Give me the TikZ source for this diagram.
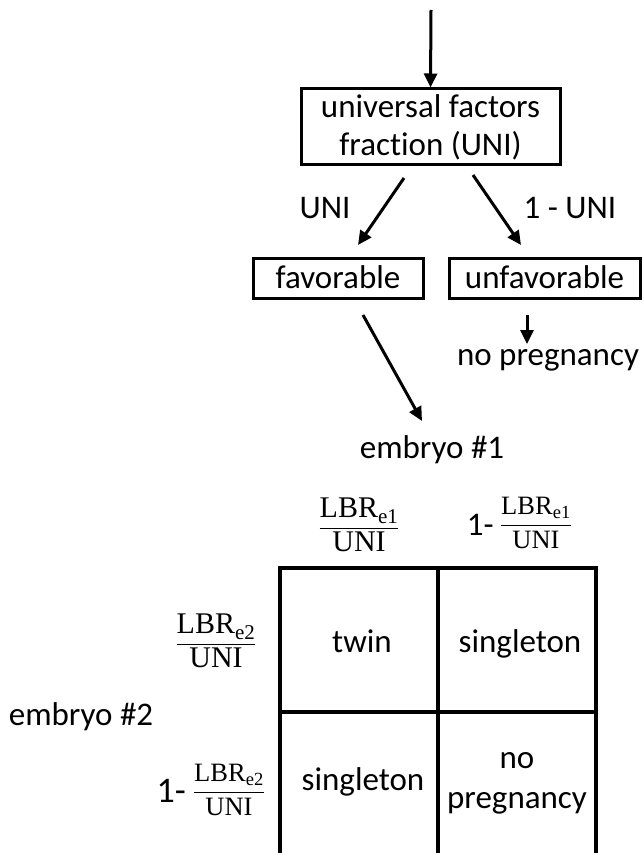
\documentclass[tikz,border=0pt]{standalone}
\usepackage{amsmath}
\usepackage{fontspec}
\setmainfont{Carlito}[Ligatures={NoCommon}]
\newfontfamily\fracfont{Liberation Serif}
\usepackage{tikz}
\usetikzlibrary{arrows.meta,positioning}

\newcommand{\lbr}[1]{\dfrac{\text{\fracfont LBR}_{\text{\fracfont e#1}}}{\text{\fracfont UNI}}}

\begin{document}
\begin{tikzpicture}[x=1pt,y=-1pt,
  every node/.style={font=\fontsize{33}{38}\selectfont,inner sep=0pt},
  box/.style={draw=black,line width=3pt,align=center},
  arr/.style={line width=3pt,-{Triangle[length=14pt,width=13pt]}},
  grid/.style={line width=3.2pt},
  bigfrac/.style={font=\fontsize{30}{36}\selectfont},
  smallfrac/.style={font=\fontsize{26.5}{32}\selectfont},
  one/.style={anchor=base east}]
\useasboundingbox (0,0) rectangle (643,853);
\coordinate (in) at (431,10);
\node [box,minimum width=259pt,minimum height=76pt] (uni) at (430.5,127) {universal factors\\fraction (UNI)};
\node [box,minimum width=170pt,minimum height=40pt] (fav) at (338,278) {};
\node [anchor=base] at (338,288) {favorable};
\node [box,minimum width=191pt,minimum height=40pt] (unfav) at (544.5,278) {};
\node [anchor=base] at (544.5,288) {unfavorable};
\node [anchor=base] (nopreg) at (548,365) {no pregnancy};
\node [anchor=base] (emb1) at (432,458) {embryo \#1};
\node [anchor=base] (emb2) at (81,725) {embryo \#2};
\node [anchor=base] (luni) at (325,218) {UNI};
\node [anchor=base] (runi) at (570,218) {1 - UNI};
\draw [arr] (in) -- (uni.north);
\coordinate (l0) at (404,178);
\coordinate (l1) at (358,245);
\coordinate (r0) at (473,175);
\coordinate (r1) at (521,245);
\draw [arr] (l0) -- (l1);
\draw [arr] (r0) -- (r1);
\coordinate (u0) at (527,315);
\coordinate (u1) at (527,344);
\draw [arr] (u0) -- (u1);
\coordinate (f0) at (363,315);
\coordinate (f1) at (422,421);
\draw [arr] (f0) -- (f1);
\node [bigfrac] (c1) at (359,525) {$\lbr{1}$};
\node [smallfrac] (c2) at (536,523) {$\lbr{1}$};
\node [one] at (494,535) {1-};
\node [bigfrac] (r1f) at (216,641) {$\lbr{2}$};
\node [smallfrac] (r2f) at (229,790) {$\lbr{2}$};
\node [one,font=\fontsize{36}{40}\selectfont] at (186,802) {1-};
\coordinate (g00) at (280,568);
\coordinate (g10) at (438,568);
\coordinate (g20) at (596,568);
\coordinate (g01) at (280,712);
\coordinate (g21) at (596,712);
\coordinate (g02) at (280,860);
\coordinate (g12) at (438,860);
\coordinate (g22) at (596,860);
\draw [grid] (g02) -- (g00) -- (g20) -- (g22);
\draw [grid] (g10) -- (g12);
\draw [grid] (g01) -- (g21);
\node [anchor=base] (twin) at (362,652) {twin};
\node [anchor=base] (s1) at (520,652) {singleton};
\node [anchor=base] (s2) at (363,790) {singleton};
\node [anchor=base,align=center,font=\fontsize{33}{40}\selectfont] (np) at (517,808) {no\\pregnancy};
\end{tikzpicture}
\end{document}
